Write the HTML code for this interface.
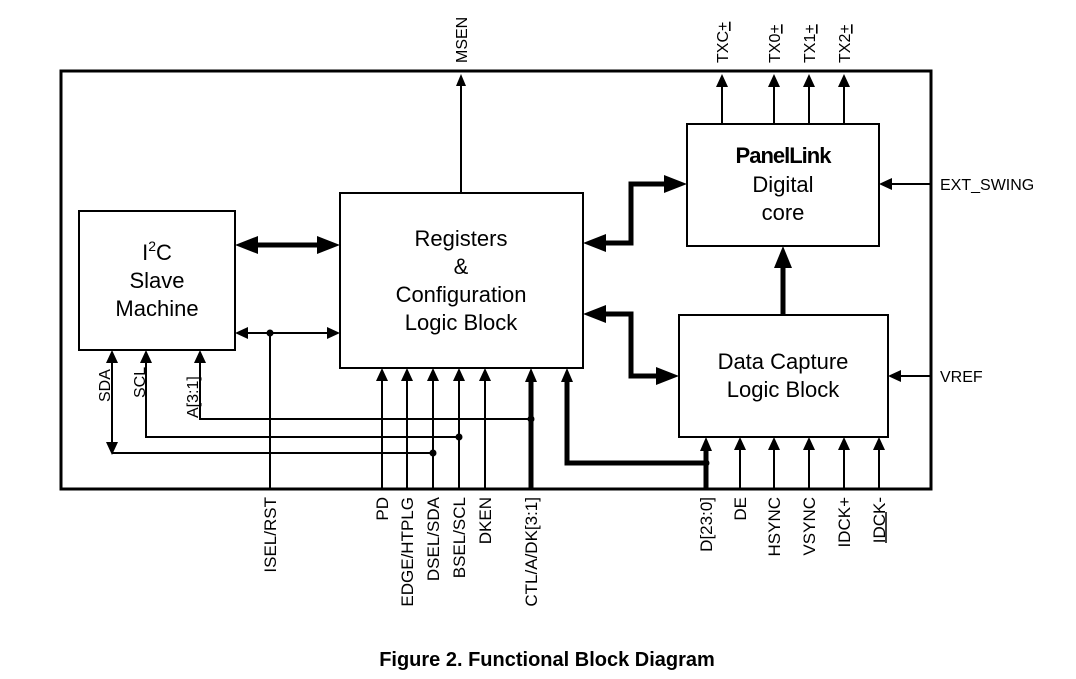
<!DOCTYPE html>
<html><head><meta charset="utf-8"><style>
html,body{margin:0;padding:0;background:#fff;}
svg{display:block;font-family:"Liberation Sans",Arial,sans-serif;}
</style></head><body>
<svg width="1076" height="679" viewBox="0 0 1076 679" xmlns="http://www.w3.org/2000/svg">
<g fill="none" stroke="#000">
<rect x="61" y="71" width="870" height="418" stroke-width="3"/>
<rect x="79" y="211" width="156" height="139" stroke-width="2"/>
<rect x="340" y="193" width="243" height="175" stroke-width="2"/>
<rect x="687" y="124" width="192" height="122" stroke-width="2"/>
<rect x="679" y="315" width="209" height="122" stroke-width="2"/>
<g stroke-width="2">
<line x1="461" y1="193" x2="461" y2="80"/>
<line x1="722" y1="124" x2="722" y2="80"/>
<line x1="774" y1="124" x2="774" y2="80"/>
<line x1="809" y1="124" x2="809" y2="80"/>
<line x1="844" y1="124" x2="844" y2="80"/>
<line x1="931" y1="184" x2="888" y2="184"/>
<line x1="931" y1="376" x2="897" y2="376"/>
<line x1="245" y1="333" x2="330" y2="333"/>
<line x1="270" y1="333" x2="270" y2="489"/>
<line x1="382" y1="489" x2="382" y2="378"/>
<line x1="407" y1="489" x2="407" y2="378"/>
<line x1="433" y1="489" x2="433" y2="378"/>
<line x1="459" y1="489" x2="459" y2="378"/>
<line x1="485" y1="489" x2="485" y2="378"/>
<polyline points="200,360 200,419 531,419"/>
<polyline points="146,360 146,437 459,437"/>
<line x1="112" y1="360" x2="112" y2="443"/>
<line x1="112" y1="453" x2="433" y2="453"/>
<line x1="740" y1="489" x2="740" y2="447"/>
<line x1="774" y1="489" x2="774" y2="447"/>
<line x1="809" y1="489" x2="809" y2="447"/>
<line x1="844" y1="489" x2="844" y2="447"/>
<line x1="879" y1="489" x2="879" y2="447"/>
</g>
<g stroke-width="5">
<line x1="252" y1="245" x2="322" y2="245"/>
<polyline points="600,243 631,243 631,184 670,184"/>
<polyline points="600,314 631,314 631,376 662,376"/>
<line x1="783" y1="315" x2="783" y2="265"/>
<line x1="531" y1="489" x2="531" y2="380"/>
<polyline points="567,380 567,463 706,463"/>
<line x1="706" y1="489" x2="706" y2="450"/>
</g>
</g>
<g fill="#000">
<polygon points="461,74 456,86 466,86"/>
<polygon points="722,74 716,87 728,87"/>
<polygon points="774,74 768,87 780,87"/>
<polygon points="809,74 803,87 815,87"/>
<polygon points="844,74 838,87 850,87"/>
<polygon points="382,368 376,381 388,381"/>
<polygon points="407,368 401,381 413,381"/>
<polygon points="433,368 427,381 439,381"/>
<polygon points="459,368 453,381 465,381"/>
<polygon points="485,368 479,381 491,381"/>
<polygon points="567,368 561,382 573,382"/>
<polygon points="531,368 525,382 537,382"/>
<polygon points="200,350 194,363 206,363"/>
<polygon points="146,350 140,363 152,363"/>
<polygon points="112,350 106,363 118,363"/>
<polygon points="112,455 106,442 118,442"/>
<polygon points="706,437 700,451 712,451"/>
<polygon points="740,437 734,450 746,450"/>
<polygon points="774,437 768,450 780,450"/>
<polygon points="809,437 803,450 815,450"/>
<polygon points="844,437 838,450 850,450"/>
<polygon points="879,437 873,450 885,450"/>
<polygon points="879,184 892,178 892,190"/>
<polygon points="888,376 901,370 901,382"/>
<polygon points="235,333 248,327 248,339"/>
<polygon points="340,333 327,327 327,339"/>
<polygon points="235,245 258,236 258,254"/>
<polygon points="340,245 317,236 317,254"/>
<polygon points="583,243 606,234 606,252"/>
<polygon points="583,314 606,305 606,323"/>
<polygon points="687,184 664,175 664,193"/>
<polygon points="679,376 656,367 656,385"/>
<polygon points="783,246 774,268 792,268"/>
<circle cx="270" cy="333" r="3.5"/>
<circle cx="531" cy="419" r="3.5"/>
<circle cx="459" cy="437" r="3.5"/>
<circle cx="433" cy="453" r="3.5"/>
<circle cx="706" cy="463" r="3.5"/>
</g>
<g font-size="22" text-anchor="middle" fill="#000">
<text x="157" y="260">I<tspan font-size="14" dy="-9">2</tspan><tspan dy="9">C</tspan></text>
<text x="157" y="288">Slave</text>
<text x="157" y="316">Machine</text>
<text x="461" y="246">Registers</text>
<text x="461" y="274">&amp;</text>
<text x="461" y="302">Configuration</text>
<text x="461" y="330">Logic Block</text>
<text x="783" y="163" font-weight="bold" font-size="22" letter-spacing="-1">PanelLink</text>
<text x="783" y="192">Digital</text>
<text x="783" y="220">core</text>
<text x="783" y="369">Data Capture</text>
<text x="783" y="397">Logic Block</text>
</g>
<g font-size="16" fill="#000">
<text x="940" y="190">EXT_SWING</text>
<text x="940" y="382">VREF</text>
</g>
<g font-size="16" fill="#000">
<text transform="translate(467,63) rotate(-90)">MSEN</text>
<text transform="translate(728,63) rotate(-90)">TXC<tspan text-decoration="underline">+</tspan></text>
<text transform="translate(780,63) rotate(-90)">TX0<tspan text-decoration="underline">+</tspan></text>
<text transform="translate(815,63) rotate(-90)">TX1<tspan text-decoration="underline">+</tspan></text>
<text transform="translate(850,63) rotate(-90)">TX2<tspan text-decoration="underline">+</tspan></text>
<text transform="translate(110,402) rotate(-90)">SDA</text>
<text transform="translate(145,398) rotate(-90)">SCL</text>
<text transform="translate(198,418) rotate(-90)">A[3:1]</text>
</g>
<g font-size="17" fill="#000" text-anchor="end">
<text transform="translate(276,497) rotate(-90)">ISEL/RST</text>
<text transform="translate(388,497) rotate(-90)">PD</text>
<text transform="translate(413,497) rotate(-90)">EDGE/HTPLG</text>
<text transform="translate(439,497) rotate(-90)">DSEL/SDA</text>
<text transform="translate(465,497) rotate(-90)">BSEL/SCL</text>
<text transform="translate(491,497) rotate(-90)">DKEN</text>
<text transform="translate(537,497) rotate(-90)">CTL/A/DK[3:1]</text>
<text transform="translate(712,497) rotate(-90)">D[23:0]</text>
<text transform="translate(746,497) rotate(-90)">DE</text>
<text transform="translate(780,497) rotate(-90)">HSYNC</text>
<text transform="translate(815,497) rotate(-90)">VSYNC</text>
<text transform="translate(850,497) rotate(-90)">IDCK+</text>
<text transform="translate(885,497) rotate(-90)">IDCK-</text>
</g>
<line x1="886" y1="512" x2="886" y2="543" stroke="#000" stroke-width="1.5"/>
<text x="547" y="666" font-size="20" font-weight="bold" text-anchor="middle" fill="#000">Figure 2. Functional Block Diagram</text>
</svg>
</body></html>
